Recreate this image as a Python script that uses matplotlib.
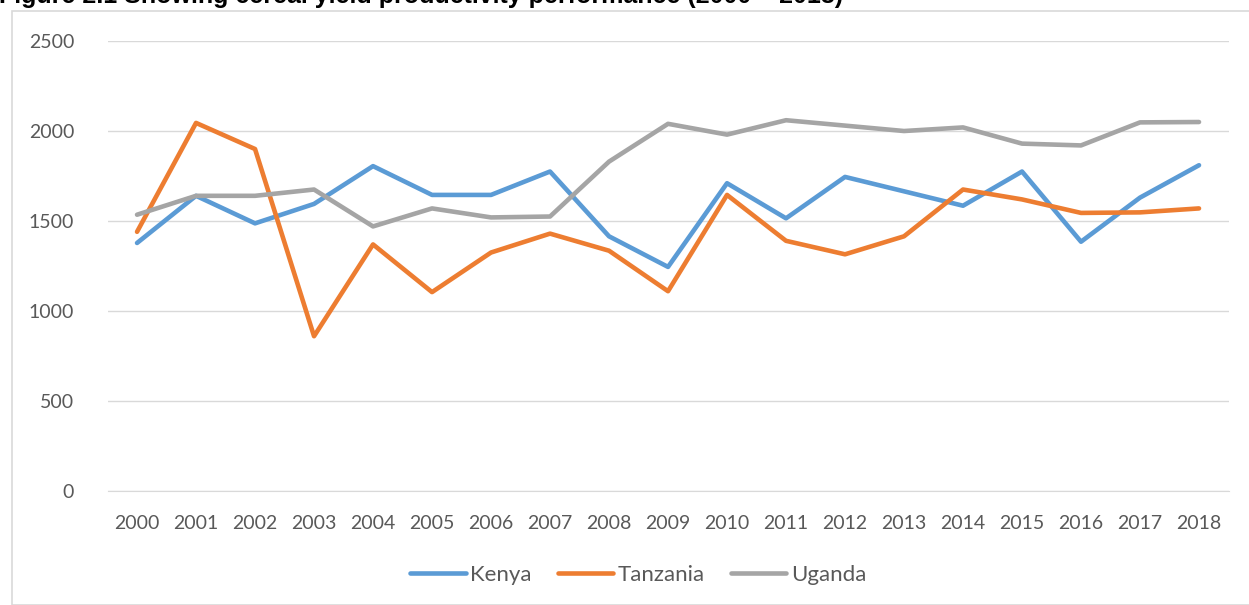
import matplotlib
matplotlib.use("Agg")
import matplotlib.pyplot as plt
from matplotlib.patches import Rectangle

years = [str(y) for y in range(2000, 2019)]
kenya = [1378, 1640, 1487, 1595, 1805, 1645, 1645, 1775, 1415, 1245,
         1710, 1515, 1745, 1665, 1585, 1775, 1385, 1630, 1810]
tanzania = [1440, 2045, 1900, 860, 1370, 1105, 1325, 1430, 1335, 1110,
            1645, 1390, 1315, 1415, 1675, 1620, 1545, 1548, 1570]
uganda = [1535, 1640, 1640, 1675, 1470, 1570, 1520, 1525, 1830, 2040,
          1980, 2060, 2030, 2000, 2020, 1930, 1920, 2048, 2050]
yticks = [0, 500, 1000, 1500, 2000, 2500]

fig = plt.figure(figsize=(12.49, 6.05), dpi=100)
ax = fig.add_axes([0.0861, 0.1884, 0.8975, 0.7438])

# chart border
fig.patches.append(Rectangle((12 / 1249, 0), 1.0, 1 - 11 / 605, transform=fig.transFigure,
                             fill=False, edgecolor="#D9D9D9", lw=1.2, zorder=0))

# title is clipped by the top edge, as in the original
fig.text(-0.001, 1 - 3 / 605, "Figure 2.1 Showing cereal yield productivity performance (2000 \u2013 2018)",
         fontsize=18, fontweight="bold", family="Liberation Sans", va="baseline", ha="left")

x = range(len(years))
series = [("Kenya", kenya, "#5B9BD5"), ("Tanzania", tanzania, "#ED7D31"), ("Uganda", uganda, "#A5A5A5")]
for name, vals, col in series:
    ax.plot(x, vals, color=col, lw=3.3, label=name, solid_capstyle="round", solid_joinstyle="round")

ax.set_xlim(-0.5, len(years) - 0.5)
ax.set_ylim(0, 2500)
ax.set_yticks(yticks)
ax.set_xticks(list(x))
ax.set_xticklabels(years)
ax.grid(axis="y", color="#D9D9D9", lw=1)
ax.set_axisbelow(True)
for s in ["top", "right", "left"]:
    ax.spines[s].set_visible(False)
ax.spines["bottom"].set_color("#D9D9D9")
ax.tick_params(length=0, labelsize=14, labelcolor="#595959")
for lab in ax.get_xticklabels() + ax.get_yticklabels():
    lab.set_family("Lato")
ax.tick_params(axis="x", pad=17)
ax.tick_params(axis="y", pad=24)

fig.legend(loc="center", bbox_to_anchor=(0.511, 1 - 575 / 605), ncol=3, frameon=False,
           prop={"family": "Lato", "size": 16}, labelcolor="#595959",
           handlelength=2.5, handletextpad=0.22, columnspacing=1.15)

fig.savefig("out.png", dpi=100)
